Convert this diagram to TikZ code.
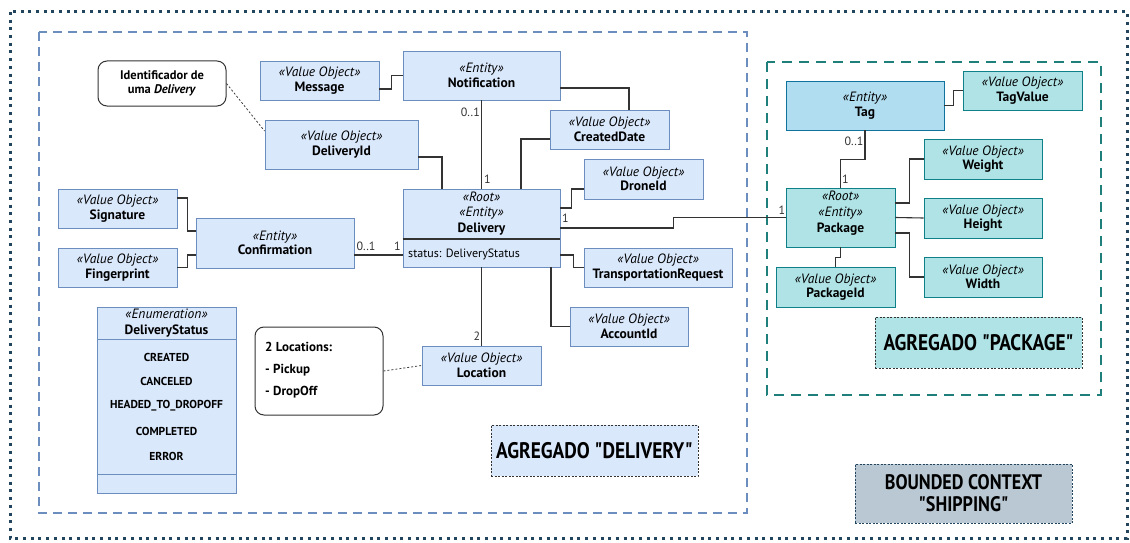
\documentclass[tikz,border=0pt]{standalone}
\usepackage{fontspec}
\setmainfont{PT Sans}
\newfontfamily\narrowfont[FakeStretch=0.86]{PT Sans}
\usetikzlibrary{calc}

\definecolor{voFill}{HTML}{DAE8FC}
\definecolor{voLine}{HTML}{6C8EBF}
\definecolor{pkFill}{HTML}{B0E3E6}
\definecolor{pkLine}{HTML}{0E8088}
\definecolor{tagFill}{HTML}{B1DDF0}
\definecolor{tagLine}{HTML}{10739E}
\definecolor{navy}{HTML}{23445D}
\definecolor{wireCol}{HTML}{333333}
\definecolor{ctxFill}{HTML}{BAC8D3}
\definecolor{aggTeal}{HTML}{1F7F7A}

\newcommand\stereo[2]{{\itshape «#1»}\\{\bfseries #2}}

\tikzset{
  umlbox/.style={draw=voLine, fill=voFill, line width=0.9pt, inner sep=0pt,
    align=center, font=\fontsize{13.5}{14.5}\selectfont},
  pkgbox/.style={umlbox, draw=pkLine, fill=pkFill},
  tagbox/.style={umlbox, draw=tagLine, fill=tagFill},
  notebox/.style={draw=black!80, fill=white, rounded corners=9pt, line width=1pt,
    inner sep=0pt, align=center, font=\fontsize{12.5}{14}\selectfont\bfseries},
  wire/.style={draw=wireCol, line width=1.1pt},
  hint/.style={draw=black!75, line width=0.8pt, dash pattern=on 2pt off 2pt},
  mult/.style={font=\fontsize{12}{13}\selectfont, text=black!80, inner sep=0pt},
  caption/.style={draw=black!80, line width=0.9pt, dash pattern=on 2pt off 1.5pt,
    inner sep=0pt, align=center, font=\narrowfont\bfseries\fontsize{22.5}{23}\selectfont},
  enumitem/.style={font=\fontsize{11.5}{12}\selectfont\bfseries, inner sep=0pt},
}

\begin{document}
\begin{tikzpicture}[x=1pt, y=-1pt]
\useasboundingbox (0,0) rectangle (1130,543);

% bounded context frame and the two aggregate frames
\draw[navy, line width=3pt, dash pattern=on 3pt off 4.7pt] (10,12) rectangle (1127,538);
\draw[voLine, line width=2.2pt, dash pattern=on 9pt off 6pt] (39,32) rectangle (747,513);
\draw[aggTeal, line width=2.5pt, dash pattern=on 10pt off 7pt] (767,62) rectangle (1101,395);

% ---- Delivery aggregate ----
\node[notebox, minimum width=128pt, minimum height=45pt] (idnote) at (162,83.5)
  {Identificador de\\uma \textit{Delivery}};
\node[umlbox, minimum width=119pt, minimum height=39pt] (message) at (319.5,80.5)
  {\stereo{Value Object}{Message}};
\node[umlbox, minimum width=157pt, minimum height=49pt] (notification) at (481.5,75.5)
  {\stereo{Entity}{Notification}};
\node[umlbox, minimum width=153pt, minimum height=49pt] (deliveryid) at (341.5,144.5)
  {\stereo{Value Object}{DeliveryId}};
\node[umlbox, minimum width=119pt, minimum height=39pt] (createddate) at (609.5,129.5)
  {\stereo{Value Object}{CreatedDate}};
\node[umlbox, minimum width=119pt, minimum height=40pt] (droneid) at (643.5,179)
  {\stereo{Value Object}{DroneId}};

% root entity with its attribute compartment
\node[umlbox, minimum width=157pt, minimum height=78pt] (delivery) at (481.5,228) {};
\draw[wireCol, line width=1.1pt] ([yshift=-11pt]delivery.west) -- ([yshift=-11pt]delivery.east);
\node[font=\fontsize{13.5}{15.5}\selectfont, align=center, inner sep=0pt] (deliveryhead) at (481.5,213.5)
  {{\itshape «Root»}\\{\itshape «Entity»}\\{\bfseries Delivery}};
\node[font=\fontsize{12}{13}\selectfont, anchor=west, inner sep=0pt] (deliveryattr) at (408,254.5)
  {status: DeliveryStatus};

\node[umlbox, minimum width=119pt, minimum height=39pt] (signature) at (117.5,208.5)
  {\stereo{Value Object}{Signature}};
\node[umlbox, minimum width=119pt, minimum height=39pt] (fingerprint) at (117.5,267.5)
  {\stereo{Value Object}{Fingerprint}};
\node[umlbox, minimum width=158pt, minimum height=50pt] (confirmation) at (275,243)
  {\stereo{Entity}{Confirmation}};
\node[umlbox, minimum width=148pt, minimum height=39pt] (transport) at (658,267.5)
  {\stereo{Value Object}{TransportationRequest}};
\node[umlbox, minimum width=118pt, minimum height=39pt] (accountid) at (629,326.5)
  {\stereo{Value Object}{AccountId}};
\node[umlbox, minimum width=119pt, minimum height=39pt] (location) at (481.5,365.5)
  {\stereo{Value Object}{Location}};
\node[notebox, minimum width=128pt, minimum height=88pt] (locnote) at (319,371) {};
\node[font=\fontsize{13}{22}\selectfont\bfseries, align=left, anchor=west, inner sep=0pt]
  (locnotetext) at (265,370) {2 Locations:\\- Pickup\\- DropOff};

% enumeration
\node[umlbox, minimum width=139pt, minimum height=186pt] (status) at (166.5,400) {};
\draw[voLine, line width=0.9pt] (97,339) -- (236,339);
\draw[voLine, line width=0.9pt] (97,474) -- (236,474);
\node[font=\fontsize{13.5}{16}\selectfont, align=center, inner sep=0pt] (statushead) at (166.5,323)
  {{\itshape «Enumeration»}\\{\bfseries DeliveryStatus}};
\node[enumitem] (s1) at (166.5,357) {CREATED};
\node[enumitem] (s2) at (166.5,381.5) {CANCELED};
\node[enumitem] (s3) at (166.5,406) {HEADED\_TO\_DROPOFF};
\node[enumitem] (s4) at (166.5,431) {COMPLETED};
\node[enumitem] (s5) at (166.5,456) {ERROR};

\node[caption, fill=voFill, minimum width=207pt, minimum height=51pt] (aggdelivery) at (594.5,450.5)
  {AGREGADO "DELIVERY"};

% ---- Package aggregate ----
\node[tagbox, minimum width=158pt, minimum height=49pt] (tag) at (865,105.5)
  {\stereo{Entity}{Tag}};
\node[pkgbox, minimum width=119pt, minimum height=39pt] (tagvalue) at (1022.5,90.5)
  {\stereo{Value Object}{TagValue}};
\node[pkgbox, minimum width=118pt, minimum height=40pt] (weight) at (983,159)
  {\stereo{Value Object}{Weight}};
\node[pkgbox, minimum width=118pt, minimum height=40pt] (height) at (983,218)
  {\stereo{Value Object}{Height}};
\node[pkgbox, minimum width=118pt, minimum height=40pt] (width) at (983,277)
  {\stereo{Value Object}{Width}};
\node[pkgbox, minimum width=109pt, minimum height=59pt] (package) at (840.5,217.5) {};
\node[font=\fontsize{13.5}{16}\selectfont, align=center, inner sep=0pt] (packagehead) at (840.5,213)
  {{\itshape «Root»}\\{\itshape «Entity»}\\{\bfseries Package}};
\node[pkgbox, minimum width=119pt, minimum height=40pt] (packageid) at (835.5,287)
  {\stereo{Value Object}{PackageId}};
\node[caption, fill=pkFill, minimum width=207pt, minimum height=51pt] (aggpackage) at (978.5,342.5)
  {AGREGADO "PACKAGE"};

\node[caption, draw=navy, fill=ctxFill, minimum width=217pt, minimum height=59pt,
  font=\narrowfont\bfseries\fontsize{21}{22}\selectfont] (context) at (963.5,493.5)
  {BOUNDED CONTEXT\\"SHIPPING"};

% ---- associations ----
\draw[wire] ([yshift=-8.5pt]message.east) -- ++(12,0) |- (notification.west);
\draw[wire] ([yshift=-12.5pt]notification.east) -| ([xshift=19.5pt]createddate.north);
\draw[wire] (notification.south) -- (delivery.north);
\draw[wire] ([yshift=-12.5pt]deliveryid.east) -| ([xshift=-39.5pt]delivery.north);
\draw[wire] ([yshift=-9.5pt]createddate.west) -| ([xshift=39.5pt]delivery.north);
\draw[wire] ([yshift=-10pt]droneid.west) -- ++(-12,0) |- ([yshift=20pt]delivery.east);
\draw[wire] (delivery.east) -- ++(113,0) |- (package.west);
\draw[wire] ([yshift=-12pt]confirmation.east) -- ([yshift=-27pt]delivery.west);
\draw[wire] ([yshift=10.5pt]signature.east) -- ++(10,0) |- ([yshift=12pt]confirmation.west);
\draw[wire] (fingerprint.east) -- ++(10,0) |- ([yshift=-12pt]confirmation.west);
\draw[wire] ([yshift=-27pt]delivery.east) -- ++(13,0) |- (transport.west);
\draw[wire] ([xshift=69.5pt]delivery.south) |- (accountid.west);
\draw[wire] (delivery.south) -- (location.north);
\draw[hint] (locnote.east) -- (location.west);
\draw[hint] (idnote.east) -- ([yshift=13.5pt]deliveryid.west);

\draw[wire] (tag.east) -- ++(9,0) |- (tagvalue.west);
\draw[wire] (tag.south) -- ++(0,29) -| (package.north);
\draw[wire] ([yshift=14.5pt]package.east) -- ++(14,0) |- (weight.west);
\draw[wire] (package.east) -- (height.west);
\draw[wire] ([yshift=-15.5pt]package.east) -- ++(14,0) |- (width.west);
\draw[wire] (package.south) -- ++(0,10) -| (packageid.north);

% multiplicities
\node[mult, anchor=east] (m1) at (480,112) {0..1};
\node[mult, anchor=west] (m2) at (484,179) {1};
\node[mult] (m3) at (565.5,218) {1};
\node[mult] (m4) at (782,210) {1};
\node[mult] (m5) at (366,246) {0..1};
\node[mult] (m6) at (397.5,246) {1};
\node[mult] (m7) at (477,336) {2};
\node[mult] (m8) at (854,141) {0..1};
\node[mult] (m9) at (845.5,179) {1};
\end{tikzpicture}
\end{document}
